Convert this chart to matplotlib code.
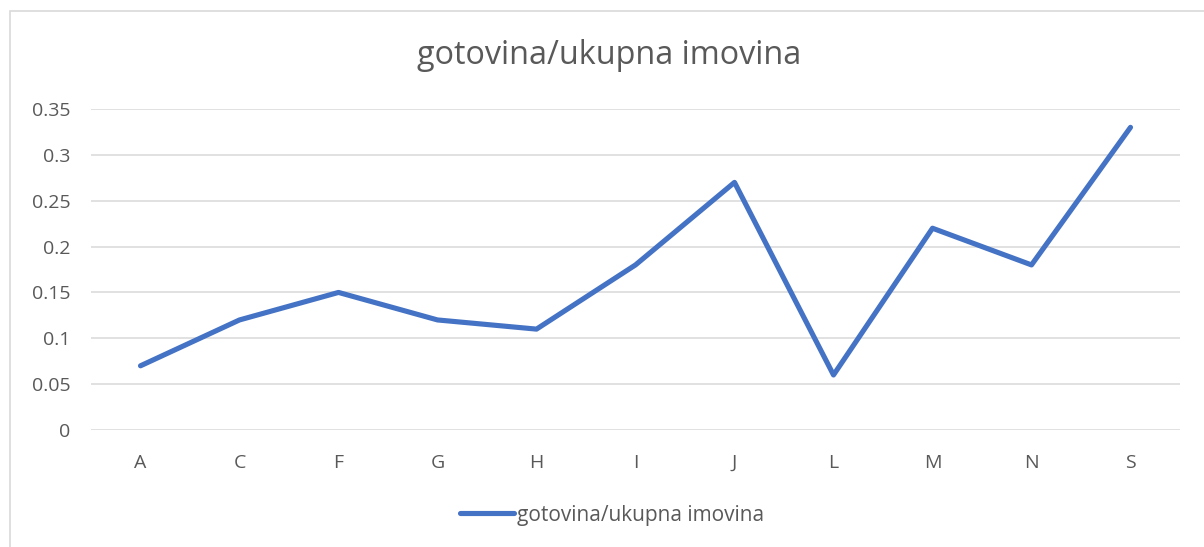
import numpy as np
import matplotlib.pyplot as plt
from matplotlib.patches import Rectangle

categories = ['A', 'C', 'F', 'G', 'H', 'I', 'J', 'L', 'M', 'N', 'S']
values = [0.07, 0.12, 0.15, 0.12, 0.11, 0.18, 0.27, 0.06, 0.22, 0.18, 0.33]
yticks = [0, 0.05, 0.1, 0.15, 0.2, 0.25, 0.3, 0.35]
ytick_labels = ['0', '0.05', '0.1', '0.15', '0.2', '0.25', '0.3', '0.35']
series_name = 'gotovina/ukupna imovina'

plt.rcParams['font.family'] = ['Open Sans', 'DejaVu Sans']
W, H = 1204, 547
fig = plt.figure(figsize=(W / 100, H / 100), dpi=100)
ax = fig.add_axes([91 / W, 117 / H, (1180 - 91) / W, (430 - 109) / H])

x = np.arange(len(categories))
line, = ax.plot(x, values, color='#4472C4', linewidth=3.7,
                solid_capstyle='round', solid_joinstyle='round', zorder=3)

ax.set_xlim(-0.5, len(categories) - 0.5)
ax.set_ylim(0, 0.35)
ax.set_yticks(yticks)
ax.set_yticklabels(ytick_labels)
ax.set_xticks(x)
ax.set_xticklabels(categories)
ax.tick_params(length=0, labelsize=14, colors='#595959')
ax.tick_params(axis='y', pad=15)
ax.tick_params(axis='x', pad=17)
ax.grid(axis='y', color='#D9D9D9', linewidth=1.1)
for s in ax.spines.values():
    s.set_visible(False)

fig.text(609 / W, 1 - 55 / H, series_name, ha='center', va='center',
         fontsize=23.3, color='#595959')

fig.legend([line], [series_name], loc='center', bbox_to_anchor=(612 / W, 1 - 515 / H),
           frameon=False, fontsize=15, labelcolor='#595959', handlelength=2.6,
           handletextpad=0.15)

fig.add_artist(Rectangle((9.5 / W, -0.1), 1.2, (547 - 10.5) / H + 0.1,
                         transform=fig.transFigure, fill=False,
                         edgecolor='#D9D9D9', linewidth=1.2, clip_on=False))

fig.savefig('out.png', dpi=100)
